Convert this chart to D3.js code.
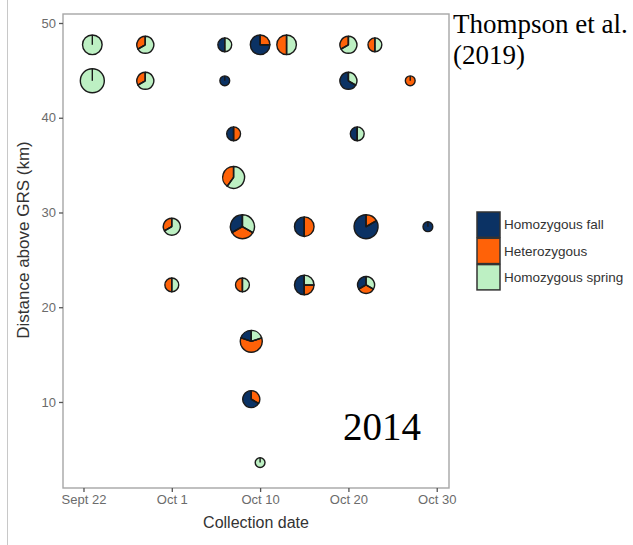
<!DOCTYPE html>
<html>
<head>
<meta charset="utf-8">
<script src="https://cdn.jsdelivr.net/npm/d3@7"></script>
<style>
  html, body { margin: 0; padding: 0; background: #fff; }
  svg { display: block; }
</style>
</head>
<body>
<svg id="chart" width="633" height="545"></svg>
<script>
// Collection day (day of year), river km, and genotype counts per sample
const collectionDay = [266, 272, 281, 285, 288, 295, 298,
                       266, 272, 281, 295, 302,
                       282, 296,
                       282,
                       275, 283, 290, 297, 304,
                       275, 283, 290, 297,
                       284, 284, 285];
const distanceKm = [47.7, 47.7, 47.7, 47.7, 47.7, 47.7, 47.7,
                    43.9, 43.9, 43.9, 43.9, 43.9,
                    38.3, 38.3,
                    33.7,
                    28.5, 28.5, 28.5, 28.5, 28.5,
                    22.35, 22.35, 22.35, 22.35,
                    16.4, 10.3, 3.6];
const homozygousFall   = [0, 0, 1, 3, 0, 0, 0,  0, 0, 1, 2, 0,  1, 1,  0,  0, 2, 2, 5, 1,  0, 0, 2, 1,  1, 2, 0];
const heterozygous     = [0, 1, 0, 1, 2, 1, 1,  0, 1, 0, 0, 1,  1, 0,  2,  1, 2, 2, 1, 0,  1, 1, 1, 1,  3, 1, 0];
const homozygousSpring = [4, 2, 1, 0, 2, 2, 1,  6, 2, 0, 1, 0,  0, 1,  3,  2, 2, 0, 0, 0,  1, 1, 1, 1,  1, 0, 1];

const genotypes = ["Homozygous fall", "Heterozygous", "Homozygous spring"];
const genotypeColors = ["#0b3264", "#ff6208", "#bdf0c3"];

const xTickValues = [265, 275, 285, 295, 305];
const xTickLabels = ["Sept 22", "Oct 1", "Oct 10", "Oct 20", "Oct 30"];
const yTickValues = [10, 20, 30, 40, 50];

const svg = d3.select("#chart");
const panel = { left: 63, right: 449, top: 14, bottom: 488 };

const x = d3.scaleLinear().domain([262.68, 306.39]).range([panel.left, panel.right]);
const y = d3.scaleLinear().domain([0.92, 50.95]).range([panel.bottom, panel.top]);
const r = d3.scaleSqrt().domain([0, 6]).range([0, 12.0]);

// figure frame line on the left
svg.append("line")
  .attr("x1", 7.5).attr("x2", 7.5).attr("y1", 0).attr("y2", 545)
  .attr("stroke", "#c8c8c8").attr("stroke-width", 1);

// panel border
svg.append("rect")
  .attr("x", panel.left).attr("y", panel.top)
  .attr("width", panel.right - panel.left).attr("height", panel.bottom - panel.top)
  .attr("fill", "none").attr("stroke", "#a6a6a6").attr("stroke-width", 1.4);

// axes
const xAxis = d3.axisBottom(x).tickValues(xTickValues)
  .tickFormat((d, i) => xTickLabels[i]).tickSize(4).tickPadding(3);
const yAxis = d3.axisLeft(y).tickValues(yTickValues).tickSize(4).tickPadding(3);

const gx = svg.append("g").attr("transform", `translate(0,${panel.bottom})`).call(xAxis);
const gy = svg.append("g").attr("transform", `translate(${panel.left},0)`).call(yAxis);
[gx, gy].forEach(g => {
  g.select(".domain").remove();
  g.selectAll(".tick line").attr("stroke", "#555").attr("stroke-width", 1.3);
  g.selectAll(".tick text")
    .attr("fill", "#6b6b6b")
    .style("font-family", "'Liberation Sans', Arial, sans-serif")
    .style("font-size", "13px");
});

// axis titles
svg.append("text")
  .attr("x", (panel.left + panel.right) / 2).attr("y", 528)
  .attr("text-anchor", "middle").attr("fill", "#333")
  .style("font-family", "'Liberation Sans', Arial, sans-serif")
  .style("font-size", "16px")
  .text("Collection date");

svg.append("text")
  .attr("transform", `translate(29,${(panel.top + panel.bottom) / 2 - 11}) rotate(-90)`)
  .attr("text-anchor", "middle").attr("fill", "#333")
  .style("font-family", "'Liberation Sans', Arial, sans-serif")
  .style("font-size", "17px")
  .text("Distance above GRS (km)");

// pies: slices run counter-clockwise from 12 o'clock
const pie = d3.pie().sort(null).value(d => d);
const samples = collectionDay.map((day, i) => ({
  day, km: distanceKm[i],
  counts: [homozygousFall[i], heterozygous[i], homozygousSpring[i]]
}));

const pies = svg.append("g").selectAll("g.pie").data(samples).join("g")
  .attr("class", "pie")
  .attr("transform", d => `translate(${x(d.day)},${y(d.km)})`);

pies.each(function (d) {
  const g = d3.select(this);
  const radius = r(d3.sum(d.counts));
  const arc = d3.arc().innerRadius(0).outerRadius(radius);
  const slices = pie(d.counts).filter(s => s.value > 0);
  g.selectAll("path").data(slices).join("path")
    .attr("d", s => arc({ startAngle: -s.endAngle, endAngle: -s.startAngle }))
    .attr("fill", s => genotypeColors[s.index])
    .attr("stroke", "#1a1a1a").attr("stroke-width", 1.4)
    .attr("stroke-linejoin", "round");
  g.selectAll("line").data(slices).join("line")
    .attr("x1", 0).attr("y1", 0)
    .attr("x2", s => radius * Math.sin(-s.startAngle))
    .attr("y2", s => -radius * Math.cos(-s.startAngle))
    .attr("stroke", "#1a1a1a").attr("stroke-width", 1.4);
});

// legend
const legend = svg.append("g").attr("transform", "translate(477,212)");
genotypes.forEach((name, i) => {
  legend.append("rect")
    .attr("x", 0).attr("y", i * 26.3)
    .attr("width", 23).attr("height", 25.3)
    .attr("fill", genotypeColors[i])
    .attr("stroke", "#333").attr("stroke-width", 1.5);
  legend.append("text")
    .attr("x", 27).attr("y", i * 26.3 + 12.6)
    .attr("dy", "0.35em").attr("fill", "#333")
    .style("font-family", "'Liberation Sans', Arial, sans-serif")
    .style("font-size", "13.5px")
    .text(name);
});

// year and citation
svg.append("text")
  .attr("x", 343).attr("y", 440)
  .attr("fill", "#000")
  .style("font-family", "'Liberation Serif', 'Times New Roman', serif")
  .style("font-size", "39px")
  .text("2014");

const cite = svg.append("text")
  .attr("fill", "#000")
  .style("font-family", "'Liberation Serif', 'Times New Roman', serif")
  .style("font-size", "27px");
cite.append("tspan").attr("x", 453).attr("y", 33).text("Thompson et al.");
cite.append("tspan").attr("x", 453).attr("y", 64).text("(2019)");
</script>
</body>
</html>
